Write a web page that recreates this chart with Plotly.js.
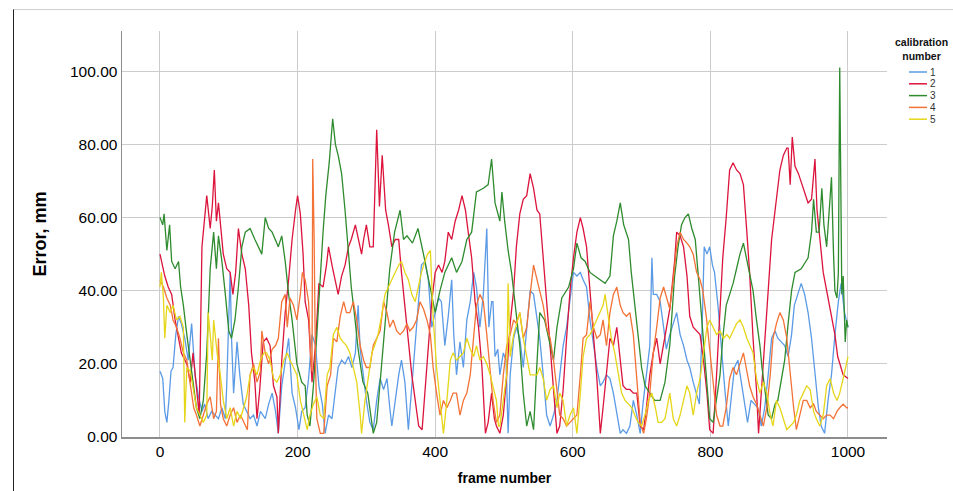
<!DOCTYPE html>
<html>
<head>
<meta charset="utf-8">
<script src="https://cdn.plot.ly/plotly-3.0.1.min.js"></script>
<style>
  html, body { margin: 0; padding: 0; background: #ffffff; }
  #wrap { position: relative; width: 953px; height: 491px; overflow: hidden; }
  #chart { width: 953px; height: 491px; }
  #frameLine { position: absolute; left: 13px; top: 9px; width: 940px; height: 482px;
    border-top: 1px solid #cfcfcf; border-left: 1px solid #222; pointer-events: none; box-sizing: border-box; }
</style>
</head>
<body>
<div id="wrap">
  <div id="chart"></div>
  <div id="frameLine"></div>
</div>
<script>
// ---- Data ----
const seriesNames = ["1", "2", "3", "4", "5"];
const seriesColors = ["#5B9BE6", "#DC143C", "#2E8B2E", "#F37236", "#E6D619"];
const xTickVals = [0, 200, 400, 600, 800, 1000];
const yTickVals = [0, 20, 40, 60, 80, 100];

// calibration 1
const frames1 = [
  0,4,7,10,13,16,19,23,27,31,
  36,41,46,51,56,61,65,70,75,80,
  85,90,95,97,100,102,104,107,112,116,
  121,126,131,136,141,146,153,158,163,168,
  172,177,182,187,192,197,202,206,211,216,
  221,226,231,236,240,245,250,254,259,264,
  269,274,279,284,288,291,296,300,305,310,
  315,320,325,330,334,337,342,347,351,356,
  361,366,371,376,380,385,390,395,400,405,
  409,414,419,424,427,431,436,441,446,451,
  456,460,465,470,475,478,482,484,487,491,
  494,499,503,506,509,514,518,523,528,533,
  538,543,548,552,557,562,567,572,577,581,
  586,591,596,601,606,611,615,620,625,630,
  635,640,644,649,654,659,664,669,673,678,
  683,688,693,698,702,707,712,715,717,722,
  727,732,736,741,746,751,756,761,766,770,
  775,780,784,788,791,795,799,803,806,811,
  816,821,826,830,835,840,845,850,854,859,
  864,869,874,879,884,889,894,898,903,908,
  913,918,922,928,932,937,942,947,952,957,
  961,966,971,976,981,986,990,995,1000];
const error1 = [
  18,16,7,4,10,18,19,28,33,31,
  27,21,31,17,11,7,9,5,7,6,
  5,8,5,14,30,45,27,12,26,17,
  9,7,5,6,3,7,5,9,12,7,
  1,14,21,27,12,8,2,7,8,16,
  28,25,14,9,1,6,5,12,19,21,
  20,22,19,23,36,24,16,10,4,2,
  10,16,13,16,8,3,10,17,21,15,
  2,14,25,36,47,48,43,30,34,38,
  37,25,33,43,28,17,26,19,32,37,
  45,41,30,39,57,30,37,37,22,24,
  17,23,21,1,17,27,30,27,19,30,
  40,39,32,27,17,6,3,6,10,17,
  25,30,37,45,44,45,43,41,32,25,
  19,14,15,17,16,12,6,1,2,1,
  3,10,6,1,9,17,25,49,39,39,
  37,30,24,28,31,34,28,25,21,19,
  15,12,9,30,52,50,52,47,45,36,
  24,13,3,10,19,21,15,8,4,10,
  9,8,3,8,17,27,29,27,26,25,
  22,28,36,40,42,39,34,27,17,8,
  3,1,10,17,28,37,42,34,30];

// calibration 2
const frames2 = [
  0,3,7,12,17,22,27,31,39,44,
  48,53,57,61,65,68,73,76,79,82,
  85,88,92,97,102,106,110,114,119,124,
  129,133,138,141,145,150,155,160,165,170,
  172,177,182,187,192,197,200,204,208,211,
  216,221,226,231,237,242,245,250,255,259,
  264,269,274,278,284,288,293,296,300,305,
  310,315,319,323,328,332,337,342,347,351,
  356,361,366,371,376,381,385,390,395,400,
  405,410,414,419,424,429,434,439,444,448,
  453,458,463,468,473,477,482,486,489,494,
  499,504,509,514,518,523,528,533,538,543,
  548,552,557,562,567,572,577,581,586,591,
  596,601,606,611,615,620,625,630,635,640,
  644,649,654,659,664,669,673,678,683,688,
  693,698,703,707,712,717,722,727,732,736,
  741,748,751,756,761,766,770,775,780,785,
  790,795,799,804,809,814,818,823,828,833,
  838,843,848,853,857,862,867,870,874,879,
  884,889,896,901,906,911,913,916,919,923,
  928,933,938,942,947,952,955,959,964,969,
  974,981,985,993,1000];
const error2 = [
  50,47,44,41,39,32,27,23,20,15,
  23,14,6,52,61,66,57,63,73,59,
  64,57,50,46,45,39,45,57,50,46,
  36,23,15,5,13,26,27,25,14,11,
  1,21,34,43,54,62,66,61,50,37,
  32,15,25,42,41,47,52,47,43,39,
  44,47,52,54,58,54,50,54,58,52,
  52,84,63,77,62,58,52,54,54,45,
  36,27,17,10,3,2,12,27,37,45,
  47,45,48,56,54,59,62,66,62,56,
  49,37,30,19,1,4,12,5,3,1,
  6,17,31,40,52,61,65,66,72,68,
  62,61,49,38,25,15,1,3,13,27,
  40,49,56,60,57,52,41,28,16,1,
  8,17,27,25,30,21,14,13,13,12,
  12,3,2,8,17,23,27,20,25,30,
  35,48,56,55,52,44,33,30,29,28,
  21,12,2,1,17,36,49,60,73,75,
  73,72,69,56,45,27,13,1,13,27,
  40,54,65,73,77,79,79,69,82,74,
  72,69,66,64,65,76,62,54,45,40,
  35,28,22,17,16];

// calibration 3
const frames3 = [
  0,4,6,10,14,17,22,27,30,34,
  39,44,48,53,58,63,68,73,78,82,
  85,90,95,100,104,109,114,119,124,131,
  138,143,148,153,158,163,168,172,177,182,
  187,192,199,206,211,214,218,223,228,233,
  237,241,246,251,255,259,264,269,274,278,
  283,288,295,302,310,315,320,327,334,341,
  349,354,359,367,375,383,387,392,400,407,
  414,424,431,439,446,453,460,470,477,482,
  487,494,497,501,506,511,516,523,528,533,
  538,543,547,552,559,567,572,577,584,594,
  601,606,612,618,625,632,640,647,654,659,
  664,669,674,681,685,690,695,700,705,712,
  719,727,734,741,748,753,758,763,768,773,
  778,782,785,789,794,799,804,809,814,818,
  823,828,833,838,843,848,852,857,862,867,
  872,875,879,884,889,894,898,903,908,913,
  918,923,932,942,947,950,954,958,962,965,
  969,972,976,979,981,984,986,988,991,993,
  996,998,1000];
const error3 = [
  60,58,61,51,58,48,46,48,41,36,
  28,21,14,8,5,10,23,46,56,46,
  55,48,39,29,27,32,41,52,56,57,
  54,52,50,60,57,56,54,52,55,48,
  39,32,20,15,14,6,3,14,28,45,
  56,66,75,87,80,77,72,62,51,41,
  33,24,15,12,1,4,15,30,46,56,
  62,54,55,53,57,50,46,41,34,40,
  45,49,45,48,54,56,67,68,69,76,
  64,59,67,59,51,45,37,25,12,3,
  7,2,17,34,32,25,21,30,38,41,
  46,53,49,48,45,44,43,42,44,55,
  59,64,58,54,45,36,28,19,14,12,
  10,10,15,25,44,52,58,60,61,57,
  54,45,38,28,17,5,4,10,17,27,
  36,39,42,46,50,53,49,45,40,32,
  25,19,13,6,5,9,10,15,21,31,
  40,45,46,49,56,65,56,56,68,58,
  52,60,71,50,40,38,45,101,39,44,
  26,32,30];

// calibration 4
const frames4 = [
  0,5,10,15,19,24,29,34,39,44,
  49,53,58,63,68,73,78,82,85,88,
  92,97,102,107,112,117,122,127,131,136,
  141,146,148,153,158,163,168,172,177,182,
  185,189,194,199,204,207,211,216,219,221,
  222,224,226,228,233,238,243,248,252,257,
  262,267,271,276,281,286,291,296,300,305,
  310,315,320,325,330,334,339,344,349,354,
  359,363,368,373,378,383,388,393,397,402,
  407,412,417,422,426,431,436,441,446,451,
  456,460,465,470,475,480,484,489,494,499,
  504,509,514,518,523,528,533,538,543,548,
  552,557,562,567,572,577,581,586,591,596,
  601,606,611,615,620,625,630,635,640,644,
  649,654,659,664,669,673,678,683,688,693,
  698,703,707,712,717,722,727,732,736,741,
  746,751,756,761,766,770,775,780,785,789,
  794,799,804,809,814,818,823,828,833,838,
  843,848,852,857,862,867,872,877,882,887,
  891,896,901,906,911,916,921,925,930,935,
  940,945,950,954,959,964,969,974,979,984,
  988,993,998,1000];
const error4 = [
  43,41,38,36,32,30,27,23,21,15,
  8,6,3,6,9,11,5,7,27,9,
  5,3,6,8,4,6,4,2,17,20,
  15,18,29,23,20,24,25,27,37,39,
  30,38,36,32,39,45,43,37,22,18,
  76,55,20,5,1,1,14,17,27,26,
  33,37,34,34,37,32,25,21,19,19,
  25,27,29,37,34,30,32,29,28,29,
  31,29,30,32,37,35,32,28,19,12,
  6,10,8,10,12,12,6,10,12,17,
  28,36,39,37,28,19,10,4,6,17,
  25,28,32,31,34,27,30,39,47,43,
  40,36,30,27,21,12,6,5,3,4,
  5,6,17,27,28,37,30,27,28,32,
  25,34,39,41,36,34,33,34,28,17,
  4,1,5,12,23,30,38,41,38,35,
  43,52,56,54,53,52,50,45,43,40,
  33,24,16,6,3,3,8,16,19,17,
  20,23,19,14,11,9,6,3,8,17,
  27,31,34,32,27,17,8,2,6,10,
  10,8,9,7,6,5,6,6,5,7,
  8,9,8,8];

// calibration 5
const frames5 = [
  0,2,5,7,10,15,19,24,29,34,
  36,39,44,49,53,58,63,68,70,73,
  76,78,83,87,92,97,102,107,112,117,
  121,126,131,136,141,146,151,155,160,165,
  170,175,180,185,189,194,199,204,209,214,
  218,223,228,233,238,243,247,252,257,262,
  266,271,276,281,286,291,293,298,303,308,
  312,317,322,327,332,337,342,347,351,356,
  361,366,371,376,380,385,389,393,395,397,
  402,407,412,417,422,426,431,436,441,446,
  451,456,460,465,470,475,480,485,489,492,
  494,499,504,506,509,514,518,523,528,533,
  538,543,548,552,557,562,567,572,577,581,
  586,591,596,601,606,611,615,620,625,630,
  635,640,644,647,651,656,661,666,671,676,
  681,686,690,695,700,705,710,715,720,724,
  729,734,741,746,751,756,761,766,770,775,
  780,785,790,795,799,804,809,814,819,824,
  828,833,838,843,848,853,858,862,867,872,
  877,882,887,891,896,901,906,911,916,921,
  925,930,935,940,945,950,954,959,964,969,
  974,979,984,988,993,998,1000];
const error5 = [
  41,45,38,27,36,34,36,32,33,30,
  4,19,18,12,8,6,4,6,34,28,
  21,32,23,18,10,5,8,3,7,5,
  8,11,17,19,17,21,23,23,21,16,
  15,17,21,23,21,19,17,10,6,2,
  6,9,11,6,5,17,19,28,30,27,
  26,25,23,19,15,6,1,10,17,23,
  25,28,33,39,41,43,45,47,48,45,
  43,39,37,41,45,48,50,51,42,33,
  19,10,1,10,21,23,21,22,23,27,
  24,22,25,21,22,20,17,13,10,3,
  3,10,17,42,22,28,31,34,27,22,
  17,17,17,19,16,10,13,14,8,12,
  10,3,6,8,1,12,22,27,28,30,
  32,34,36,39,33,27,23,17,12,10,
  9,8,6,4,3,6,10,12,8,4,
  4,5,12,5,3,6,10,14,12,6,
  12,16,23,30,32,30,28,29,27,28,
  27,29,31,32,30,27,25,23,16,12,
  15,12,6,3,10,8,5,2,3,4,
  6,10,12,14,13,7,5,3,6,14,
  16,12,10,12,16,21,22];

const allFrames = [frames1, frames2, frames3, frames4, frames5];
const allErrors = [error1, error2, error3, error4, error5];

// ---- Build chart ----
const FONT = "Liberation Sans, Arial, Helvetica, sans-serif";
const traces = seriesNames.map((name, i) => ({
  type: "scatter",
  mode: "lines",
  name: name,
  x: allFrames[i],
  y: allErrors[i],
  line: { color: seriesColors[i], width: 1.3 },
  hoverinfo: "x+y+name"
}));

// custom legend (matches the compact legend of the reference)
const W = 953, H = 491, L = 122, R = 887, T = 31, B = 437;
const px = v => (v - L) / (R - L);
const py = v => (B - v) / (B - T);
const legendShapes = [];
const legendAnn = [];
legendAnn.push({
  xref: "paper", yref: "paper", x: px(921), y: py(49),
  text: "<b>calibration<br>number</b>", showarrow: false,
  xanchor: "center", yanchor: "middle", align: "center",
  font: { family: FONT, size: 10.5, color: "#111" }
});
seriesNames.forEach((name, i) => {
  const yy = 72 + i * 11.8;
  legendShapes.push({
    type: "line", xref: "paper", yref: "paper",
    x0: px(909), x1: px(927), y0: py(yy), y1: py(yy),
    line: { color: seriesColors[i], width: 1.5 }
  });
  legendAnn.push({
    xref: "paper", yref: "paper", x: px(928), y: py(yy),
    text: name, showarrow: false, xanchor: "left", yanchor: "middle",
    font: { family: FONT, size: 10, color: "#333" }
  });
});

const layout = {
  width: W, height: H,
  margin: { l: L, r: W - R, t: T, b: H - B, pad: 0 },
  paper_bgcolor: "#ffffff",
  plot_bgcolor: "#ffffff",
  showlegend: false,
  font: { family: FONT, color: "#000" },
  xaxis: {
    range: [-55.2, 1056.7],
    tickvals: xTickVals,
    ticktext: xTickVals.map(String),
    showgrid: true, gridcolor: "#cccccc", gridwidth: 1,
    zeroline: false,
    showline: true, linecolor: "#8c8c8c", linewidth: 1.5,
    ticks: "",
    tickfont: { family: FONT, size: 15.5, color: "#000" },
    title: { text: "<b>frame number</b>", font: { family: FONT, size: 14, color: "#000" }, standoff: 14 }
  },
  yaxis: {
    range: [0, 111],
    tickvals: yTickVals,
    ticktext: yTickVals.map(v => v.toFixed(2)),
    showgrid: true, gridcolor: "#cccccc", gridwidth: 1,
    zeroline: false,
    showline: true, linecolor: "#8c8c8c", linewidth: 1.5,
    ticks: "",
    tickfont: { family: FONT, size: 15.5, color: "#000" },
    title: { text: "<b>Error, mm</b>", font: { family: FONT, size: 18, color: "#000" }, standoff: 18 }
  },
  shapes: legendShapes,
  annotations: legendAnn
};

Plotly.newPlot("chart", traces, layout, { displayModeBar: false, staticPlot: true });
</script>
</body>
</html>
